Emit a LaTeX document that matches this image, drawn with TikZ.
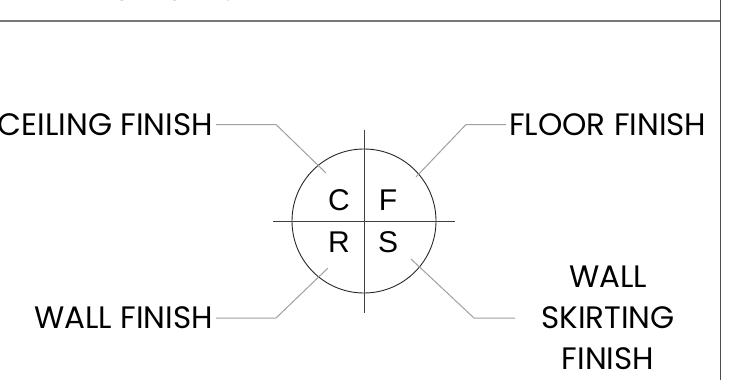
\documentclass[tikz,border=0pt]{standalone}
\usepackage{fontspec}
\newfontfamily\labelfont{Poppins}
\newfontfamily\letterfont{Liberation Sans}
\usetikzlibrary{positioning,calc}
\usepackage{xcolor}
\definecolor{leadgray}{HTML}{A0A0A0}
\definecolor{framegray}{HTML}{777777}
\tikzset{
  legtext/.style  = {font=\labelfont\fontsize{31}{41}\selectfont, inner xsep=3pt,
                     inner ysep=0pt, align=center},
  quadtext/.style = {font=\letterfont\fontsize{30}{32}\selectfont, inner sep=0pt},
  leader/.style   = {draw=leadgray, line width=1pt},
  cross/.style    = {draw=black!75, line width=0.9pt},
}
\begin{document}
\begin{tikzpicture}[x=1pt, y=-1pt]
\useasboundingbox (0,0) rectangle (738,380);
% ---------- frame and title ----------
\draw[framegray, line width=1.8pt] (0,21) -- (720,21);
\draw[black!70, line width=1pt] (720,0) -- (720,380);
\node[font=\labelfont\bfseries\fontsize{28}{32}\selectfont, anchor=base west,
      inner sep=0pt] (title) at (60,1) {FINISHES LEGEND};
% ---------- legend symbol ----------
\coordinate (ctr) at (364,221);
\draw[black!85, line width=0.9pt] (ctr) circle (72);
\draw[cross] (364,130) -- (364,313);
\draw[cross] (273,221) -- (455,221);
\node[quadtext] (c) at (339,200) {C};
\node[quadtext] (f) at (388,200) {F};
\node[quadtext] (r) at (339,242) {R};
\node[quadtext] (s) at (388,242) {S};
% ---------- labels ----------
\node[legtext, anchor=east] (ceil)  at (216,124.5) {CEILING FINISH};
\node[legtext, anchor=west] (floor) at (506,124.5) {FLOOR FINISH};
\node[legtext, anchor=east] (wall)  at (216,318)   {WALL FINISH};
\node[legtext] (skirt) at (608,318) {WALL\\SKIRTING\\FINISH};
% ---------- leaders ----------
\coordinate (ceilEnd)  at (326,173);
\coordinate (floorEnd) at (416,177);
\coordinate (wallEnd)  at (328,268);
\coordinate (skirtEnd) at (411,259);
\draw[leader] (ceil.east) -- ++(60,0) -- (ceilEnd);
\draw[leader] (floor.west) -- ++(-40,0) -- (floorEnd);
\draw[leader] (wall.east) -- ++(60,0) -- (wallEnd);
\draw[leader] (skirt.west |- 0,318) ++(-23,0) -- ++(-41,0) -- (skirtEnd);
\end{tikzpicture}
\end{document}
